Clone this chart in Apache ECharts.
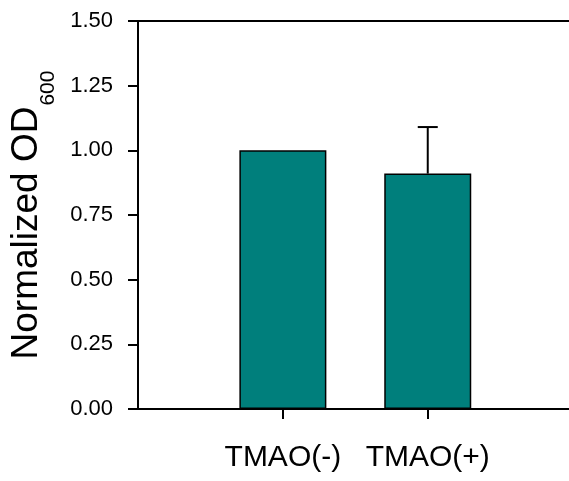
<!DOCTYPE html>
<html>
<head>
<meta charset="utf-8">
<script src="https://cdn.jsdelivr.net/npm/echarts@6/dist/echarts.min.js"></script>
<style>
html,body{margin:0;padding:0;background:#fff;}
#chart{width:569px;height:481px;}
</style>
</head>
<body>
<div id="chart"></div>
<script>
var categories = ['TMAO(-)', 'TMAO(+)'];
var positions = [1, 2];
var values = [1.00, 0.91];
var errors = [0, 0.18];
var yTicks = [0, 0.25, 0.5, 0.75, 1.0, 1.25, 1.5];

var chart = echarts.init(document.getElementById('chart'), null, {renderer: 'canvas'});
var font = 'Liberation Sans, Arial, sans-serif';

var barData = positions.map(function (p, i) { return [p, values[i]]; });
var errData = positions.map(function (p, i) { return [p, values[i], values[i] + errors[i], errors[i]]; });

var option = {
  backgroundColor: '#ffffff',
  animation: false,
  grid: {left: 138, right: 0, top: 21, bottom: 72, containLabel: false, outerBoundsMode: 'none'},
  xAxis: [{
    type: 'value', min: 0, max: 2.975,
    position: 'bottom',
    splitLine: {show: false},
    axisLine: {show: true, lineStyle: {color: '#000', width: 2}},
    axisTick: {show: true, customValues: positions, length: 10, lineStyle: {color: '#000', width: 2}},
    axisLabel: {
      show: true, customValues: positions, margin: 34,
      fontFamily: font, fontSize: 30, color: '#000',
      formatter: function (v) { return categories[Math.round(v) - 1] || ''; }
    }
  }, {
    type: 'value', min: 0, max: 2.975,
    position: 'top',
    splitLine: {show: false},
    axisLine: {show: true, lineStyle: {color: '#000', width: 2}},
    axisTick: {show: false},
    axisLabel: {show: false}
  }],
  yAxis: {
    type: 'value', min: 0, max: 1.5, interval: 0.25,
    splitLine: {show: false},
    axisLine: {show: true, lineStyle: {color: '#000', width: 2}},
    axisTick: {show: true, length: 10, lineStyle: {color: '#000', width: 2}},
    axisLabel: {
      margin: 25, fontFamily: font, fontSize: 22, color: '#000',
      formatter: function (v) { return v.toFixed(2); }
    },
    name: '{m|Normalized OD}{s|600}',
    nameLocation: 'middle',
    nameRotate: 90,
    nameGap: 88,
    nameTextStyle: {
      rich: {
        m: {fontFamily: font, fontSize: 37, color: '#000', verticalAlign: 'top', lineHeight: 42},
        s: {fontFamily: font, fontSize: 21, color: '#000', verticalAlign: 'top', lineHeight: 21, padding: [30, 0, 0, 1]}
      }
    }
  },
  series: [{
    type: 'bar',
    data: barData,
    barWidth: 87,
    itemStyle: {color: '#007F7C', borderColor: '#000', borderWidth: 1.5}
  }, {
    type: 'custom',
    data: errData,
    z: 10,
    renderItem: function (params, api) {
      if (api.value(3) <= 0) return null;
      var base = api.coord([api.value(0), api.value(1)]);
      var top = api.coord([api.value(0), api.value(2)]);
      var hw = 10;
      return {
        type: 'group',
        children: [
          {type: 'line', shape: {x1: base[0], y1: base[1], x2: top[0], y2: top[1]}, style: {stroke: '#000', lineWidth: 2}},
          {type: 'line', shape: {x1: top[0] - hw, y1: top[1], x2: top[0] + hw, y2: top[1]}, style: {stroke: '#000', lineWidth: 2}}
        ]
      };
    }
  }]
};
chart.setOption(option);
</script>
</body>
</html>
